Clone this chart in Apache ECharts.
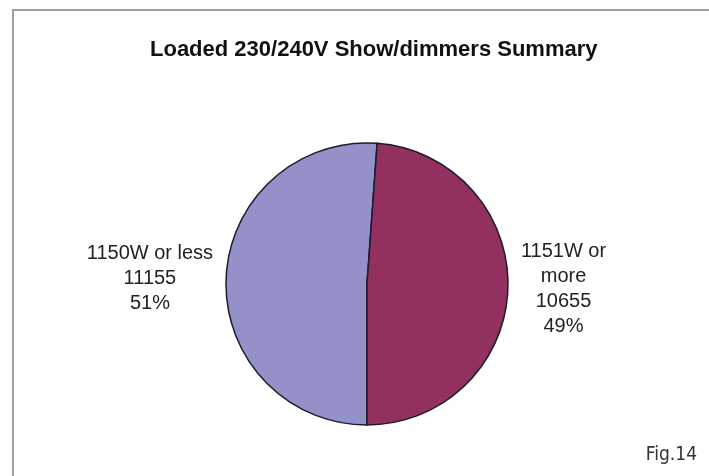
<!DOCTYPE html>
<html>
<head>
<meta charset="utf-8">
<script src="https://cdn.jsdelivr.net/npm/echarts@6/dist/echarts.min.js"></script>
<style>
  html, body { margin: 0; padding: 0; background: #fff; }
  #chart { width: 709px; height: 476px; }
</style>
</head>
<body>
<div id="chart"></div>
<script>
// slice data, in drawing order (clockwise from the bottom)
const categories = ['1150W or less', '1151W or more'];
const labelNames = ['1150W or less', '1151W or\nmore'];
const values = [11155, 10655];
const colors = ['#9490c8', '#92305f'];

const chart = echarts.init(document.getElementById('chart'));

const seriesData = categories.map((name, i) => ({
  name: name,
  value: values[i],
  itemStyle: { color: colors[i] }
}));

chart.setOption({
  animation: false,
  title: {
    text: 'Loaded 230/240V Show/dimmers Summary',
    left: 145,
    top: 34,
    textStyle: {
      fontFamily: 'Liberation Sans, Arial, sans-serif',
      fontSize: 22,
      fontWeight: 'bold',
      color: '#111'
    }
  },
  graphic: [
    {
      type: 'rect',
      shape: { x: 13, y: 10, width: 720, height: 500 },
      style: { fill: 'none', stroke: '#a0a0a0', lineWidth: 2 },
      silent: true
    },
    {
      type: 'text',
      right: 12,
      top: 446,
      style: {
        text: 'Fig.14',
        fontFamily: 'Liberation Sans Narrow, DejaVu Sans Condensed, sans-serif',
        fontSize: 19,
        fill: '#333'
      }
    }
  ],
  series: [
    {
      type: 'pie',
      center: [367, 284],
      radius: 141,
      startAngle: 270,
      clockwise: true,
      data: seriesData,
      itemStyle: { borderColor: '#1b1b2e', borderWidth: 1.5 },
      label: {
        position: 'outside',
        fontFamily: 'Liberation Sans, Arial, sans-serif',
        fontSize: 20,
        color: '#222',
        lineHeight: 25,
        formatter: p => {
          const lines = labelNames[p.dataIndex].split('\n')
            .concat([String(p.value), Math.round(p.percent) + '%']);
          return lines.map(l => '{c|' + l + '}').join('\n');
        },
        rich: {
          c: {
            align: 'center',
            fontFamily: 'Liberation Sans, Arial, sans-serif',
            fontSize: 20,
            color: '#222',
            lineHeight: 25
          }
        }
      },
      labelLine: { show: false, length: 8, length2: 0 },
      emphasis: { disabled: true }
    }
  ]
});
</script>
</body>
</html>
